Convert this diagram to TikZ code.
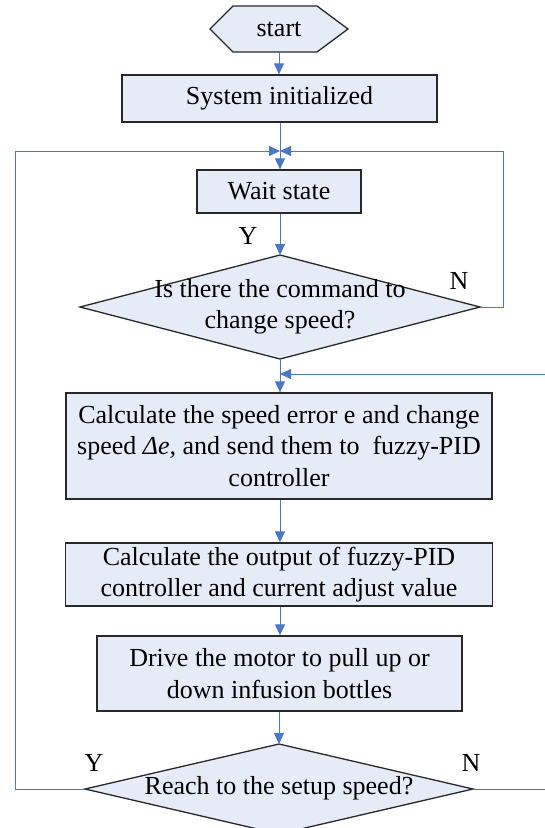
\documentclass[tikz,border=0pt]{standalone}
\usepackage{fontspec}
\setmainfont{Liberation Serif}
\usetikzlibrary{arrows.meta}
\definecolor{boxfill}{RGB}{230,236,247}
\definecolor{flow}{RGB}{72,120,198}
\definecolor{edge}{RGB}{40,40,40}
\begin{document}
\begin{tikzpicture}[x=1pt,y=-1pt,
  every node/.style={font=\fontsize{26}{31.5}\selectfont},
  procbox/.style={draw=edge,line width=1.3pt,fill=boxfill,inner sep=0pt,align=center},
  shapeline/.style={draw=edge,line width=1.3pt,fill=boxfill},
  conn/.style={draw=flow,line width=1pt},
  arr/.style={conn,-{Triangle[length=11pt,width=10pt]}},
  lbl/.style={inner sep=0pt}]
\useasboundingbox (0,0) rectangle (545,828);
\clip (0,0) rectangle (545,828);
% start hexagon
\path[shapeline] (210,29) -- (233,6) -- (317,6) -- (348,29) -- (317,52) -- (233,52) -- cycle;
\node[lbl] (start) at (279,29) {start};
\coordinate (startb) at (279,52);
% boxes
\node[procbox,minimum width=315,minimum height=47] (init) at (279.5,98.5) {System initialized};
\node[procbox,minimum width=164,minimum height=43] (wait) at (279,191.5) {Wait state};
% diamond 1
\coordinate (d1t) at (280,255);
\coordinate (d1b) at (280,359);
\coordinate (d1l) at (80,307);
\coordinate (d1r) at (480,307);
\path[shapeline] (d1t) -- (d1r) -- (d1b) -- (d1l) -- cycle;
\node[lbl,align=center] (d1) at (280,307) {Is there the command to\\change speed?};
\node[procbox,minimum width=426,minimum height=106] (calc) at (279,446)
  {Calculate the speed error e and change\\speed \textit{Δe,} and send them to\ \ fuzzy-PID\\controller};
\node[procbox,minimum width=427,minimum height=63] (out) at (279,574.5)
  {Calculate the output of fuzzy-PID\\controller and current adjust value};
\node[procbox,minimum width=365,minimum height=75] (drive) at (279.5,673.5)
  {Drive the motor to pull up or\\down infusion bottles};
% diamond 2
\coordinate (d2t) at (279,744);
\coordinate (d2b) at (279,834);
\coordinate (d2l) at (85,789);
\coordinate (d2r) at (473,789);
\path[shapeline] (d2t) -- (d2r) -- (d2b) -- (d2l) -- cycle;
\node[lbl] (d2) at (279,788) {Reach to the setup speed?};
% merge points
\coordinate (m1) at (280,151);
\coordinate (m2) at (280,374);
% connectors
\draw[arr] (startb) -- (init.north -| startb);
\draw[conn] (init.south -| m1) -- (m1);
\draw[arr] (m1) -- (wait.north -| m1);
\draw[arr] (wait.south -| d1t) -- (d1t);
\draw[arr] (d1r) -- (503,307) -- (503,151) -- (m1);
\draw[arr] (d2l) -- (15,789) -- (15,151) -- (m1);
\draw[conn] (d1b) -- (m2);
\draw[arr] (m2) -- (calc.north -| m2);
\draw[arr] (d2r) -- (560,789) -- (560,374) -- (m2);
\draw[arr] (calc.south -| m2) -- (out.north -| m2);
\draw[arr] (out.south -| m2) -- (drive.north -| m2);
\draw[arr] (drive.south -| d2t) -- (d2t);
% labels
\node[lbl] (y1) at (248,236) {Y};
\node[lbl] (n1) at (459,281) {N};
\node[lbl] (y2) at (94,763) {Y};
\node[lbl] (n2) at (471,763) {N};
\end{tikzpicture}
\end{document}
